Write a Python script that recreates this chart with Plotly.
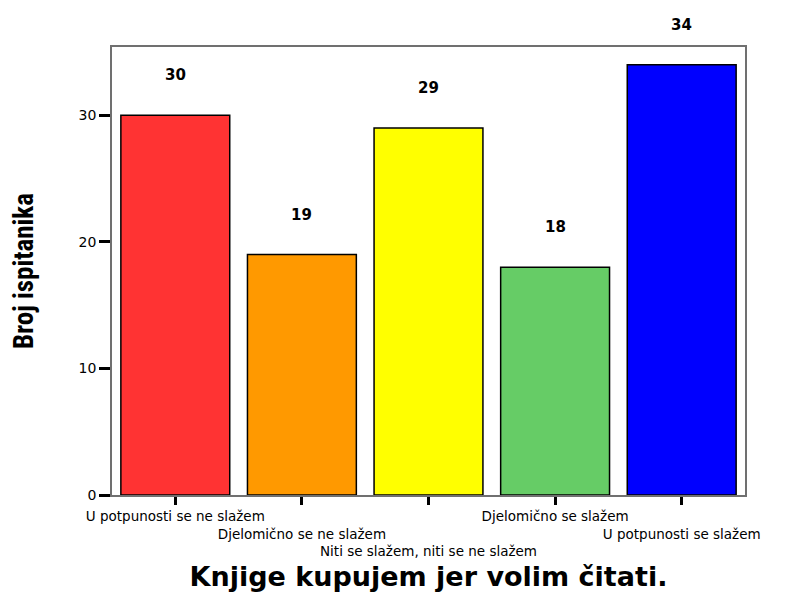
import plotly.graph_objects as go

categories = ["U potpunosti se ne slažem", "Djelomično se ne slažem",
              "Niti se slažem, niti se ne slažem", "Djelomično se slažem",
              "U potpunosti se slažem"]
counts = [30, 19, 29, 18, 34]
colors = ["#FF3333", "#FF9900", "#FFFF00", "#66CC66", "#0000FF"]
tick_levels = [0, 1, 2, 0, 1]
y_ticks = [0, 10, 20, 30]

x_pos = list(range(len(categories)))
ticktext = ["<br>" * lvl + c for c, lvl in zip(categories, tick_levels)]

fig = go.Figure()
fig.add_trace(go.Bar(
    x=x_pos, y=counts,
    marker=dict(color=colors, line=dict(color="black", width=1.5)),
    hoverinfo="skip",
))

for x, v in zip(x_pos, counts):
    fig.add_annotation(x=x, y=v, text=f"<b>{v}</b>", showarrow=False,
                       yshift=40, font=dict(family="DejaVu Sans", size=15, color="black"))

fig.update_layout(
    width=790, height=586,
    margin=dict(l=104, r=53, t=39, b=99, autoexpand=False),
    paper_bgcolor="white", plot_bgcolor="white",
    showlegend=False,
    bargap=0.14,
    xaxis=dict(
        range=[-0.5, 4.5], tickmode="array", tickvals=x_pos, ticktext=ticktext,
        tickangle=0, automargin=False,
        ticks="outside", ticklen=8, tickwidth=3, tickcolor="black",
        showline=True, linecolor="#707070", linewidth=1.5, mirror=True,
        showgrid=False, zeroline=False,
        tickfont=dict(family="DejaVu Sans", size=13.5, color="black"),
        title=dict(text="<b>Knjige kupujem jer volim čitati.</b>",
                   font=dict(family="DejaVu Sans, sans-serif", size=27, color="black"),
                   standoff=9),
    ),
    yaxis=dict(
        range=[0, 35.4], tickmode="array", tickvals=y_ticks, automargin=False,
        ticks="outside", ticklen=11, tickwidth=3, tickcolor="black",
        showline=True, linecolor="#707070", linewidth=1.5, mirror=True,
        showgrid=False, zeroline=False,
        tickfont=dict(family="DejaVu Sans", size=14, color="black"),
        title=dict(text="<b>Broj ispitanika</b>",
                   font=dict(family="Liberation Sans Narrow, Arial Narrow, Roboto Condensed, sans-serif",
                             size=27, color="black"),
                   standoff=45),
    ),
)

fig.write_html("out.html")
